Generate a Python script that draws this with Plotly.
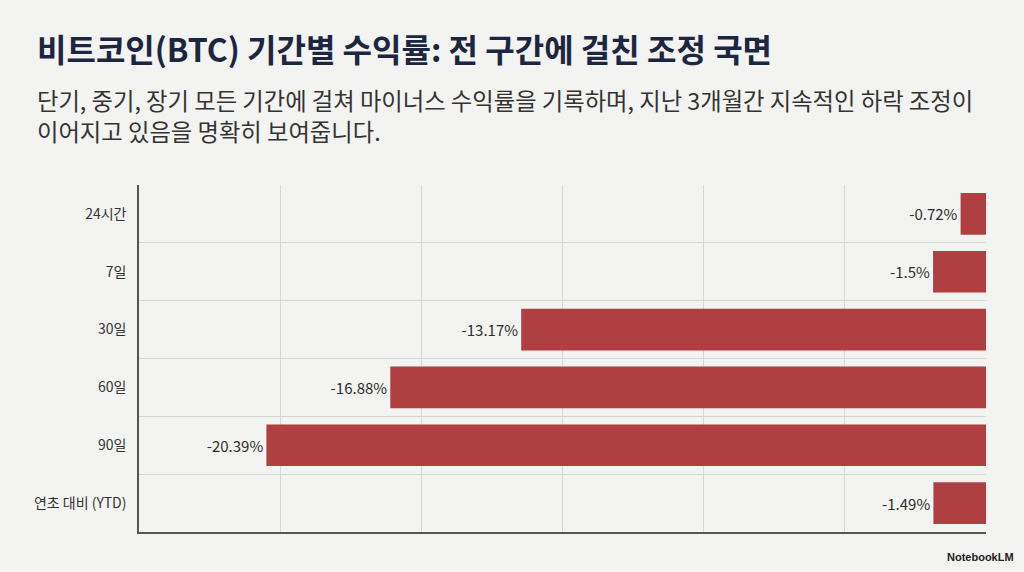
import plotly.graph_objects as go

categories = ["24시간", "7일", "30일", "60일", "90일", "연초 대비 (YTD)"]
returns = [-0.72, -1.5, -13.17, -16.88, -20.39, -1.49]
labels = ["-0.72%", "-1.5%", "-13.17%", "-16.88%", "-20.39%", "-1.49%"]

title = "비트코인(BTC) 기간별 수익률: 전 구간에 걸친 조정 국면"
subtitle1 = "단기, 중기, 장기 모든 기간에 걸쳐 마이너스 수익률을 기록하며, 지난 3개월간 지속적인 하락 조정이"
subtitle2 = "이어지고 있음을 명확히 보여줍니다."

FONT = "Noto Sans CJK KR"
BG = "#f3f3f1"

L, R, T, B = 139, 38, 185, 40
PW, PH = 1024 - L - R, 572 - T - B


def px(x):
    return (x - L) / PW


def py(y):
    return 1 - (y - T) / PH


fig = go.Figure(go.Bar(
    y=categories, x=returns, orientation="h",
    marker=dict(color="#b03f42", line=dict(width=0)),
    width=0.72,
    text=labels, textposition="outside", cliponaxis=False,
    textfont=dict(family=FONT, size=15, color="#2e2e2e"),
    hoverinfo="skip",
))

fig.update_layout(
    width=1024, height=572,
    paper_bgcolor=BG, plot_bgcolor=BG,
    margin=dict(l=L, r=R, t=T, b=B),
    showlegend=False,
    font=dict(family=FONT, color="#333333"),
    xaxis=dict(range=[-24, 0], dtick=4, tick0=0, showticklabels=False,
               showgrid=True, gridcolor="#d6d6d6", gridwidth=1,
               zeroline=False, showline=True, linecolor="#555555", linewidth=1.5,
               ticks="", fixedrange=True),
    yaxis=dict(type="category", autorange="reversed", tickson="boundaries",
               showgrid=True, gridcolor="#d6d6d6", gridwidth=1,
               showline=True, linecolor="#555555", linewidth=1.5,
               ticks="", ticklabelstandoff=8, fixedrange=True,
               tickfont=dict(family=FONT, size=14, color="#333333")),
    annotations=[
        dict(text=f"<b>{title}</b>", xref="paper", yref="paper",
             x=px(35), y=py(48), xanchor="left", yanchor="middle",
             showarrow=False, font=dict(family=FONT, size=32, color="#1c2640")),
        dict(text=subtitle1, xref="paper", yref="paper",
             x=px(35), y=py(100), xanchor="left", yanchor="middle",
             showarrow=False, font=dict(family=FONT, size=23.3, color="#333333")),
        dict(text=subtitle2, xref="paper", yref="paper",
             x=px(35), y=py(131), xanchor="left", yanchor="middle",
             showarrow=False, font=dict(family=FONT, size=23.3, color="#333333")),
        dict(text="<b>NotebookLM</b>", xref="paper", yref="paper",
             x=px(1016), y=py(557), xanchor="right", yanchor="middle",
             showarrow=False, font=dict(family="Liberation Sans", size=11, color="#222222")),
    ],
)

fig.write_html("out.html", config={"displayModeBar": False},
               post_script="document.body.style.margin='0';")
